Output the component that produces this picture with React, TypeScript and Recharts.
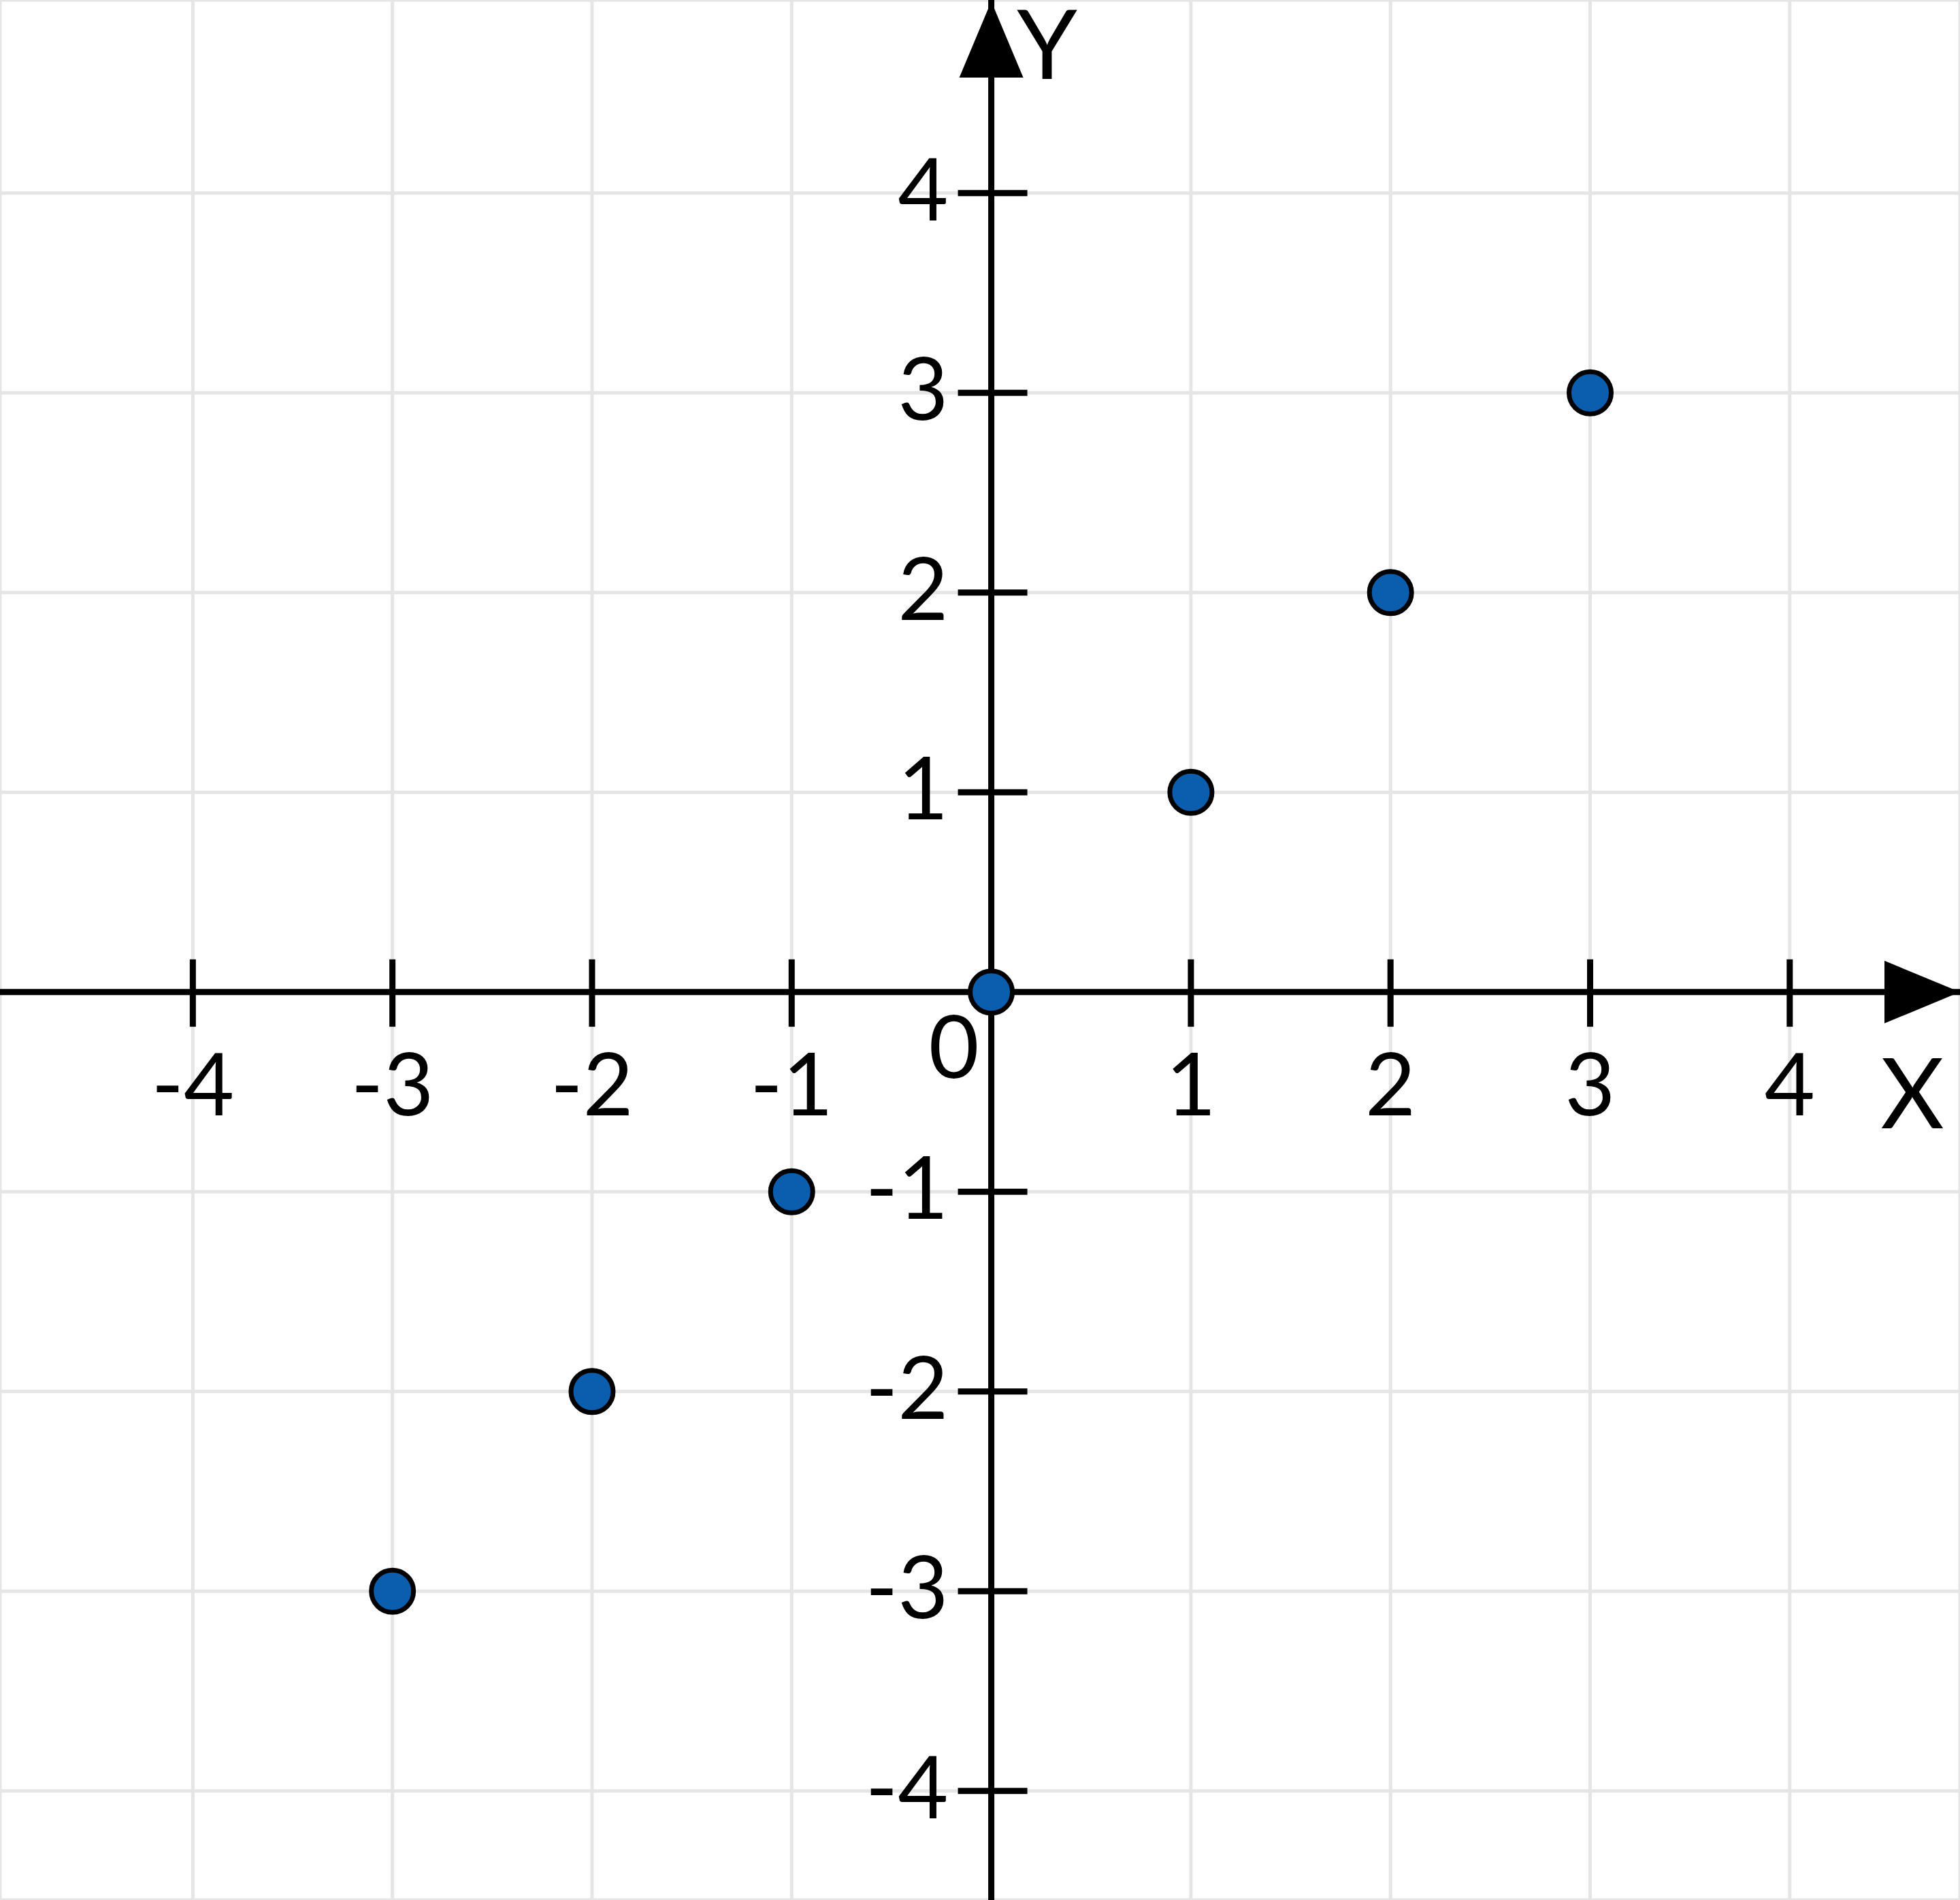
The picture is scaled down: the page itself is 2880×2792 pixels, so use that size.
import { ScatterChart, Scatter, XAxis, YAxis, CartesianGrid, ReferenceLine, ReferenceDot } from "recharts"

const points = [
  { x: -3, y: -3 },
  { x: -2, y: -2 },
  { x: -1, y: -1 },
  { x: 0, y: 0 },
  { x: 1, y: 1 },
  { x: 2, y: 2 },
  { x: 3, y: 3 },
]

const gridTicks = [-4, -3, -2, -1, 0, 1, 2, 3, 4]
const xTicks = [-4, -3, -2, -1, 1, 2, 3, 4]
const yTicks = [-4, -3, -2, -1, 1, 2, 3, 4]
const originLabel = "0"
const xName = "X"
const yName = "Y"

const W = 2880
const H = 2792
const X_DOMAIN: [number, number] = [-4.966, 4.853]
const Y_DOMAIN: [number, number] = [-4.546, 4.967]

const font = "Lato, 'Open Sans', sans-serif"
const ink = "#000"

const fmt = (v: number) => (v < 0 ? "-" + Math.abs(v) : String(v))

function XTick(props: any) {
  const { cx, cy, label } = props
  return (
    <g>
      <line x1={cx} x2={cx} y1={cy - 48} y2={cy + 51} stroke={ink} strokeWidth={9} />
      <text x={cx} y={cy + 181} textAnchor="middle" fontSize={128} fontFamily={font} fill={ink}>
        {label}
      </text>
    </g>
  )
}

function YTick(props: any) {
  const { cx, cy, label } = props
  return (
    <g>
      <line x1={cx - 49} x2={cx + 53} y1={cy} y2={cy} stroke={ink} strokeWidth={9} />
      <text x={cx - 63} y={cy + 40} textAnchor="end" fontSize={128} fontFamily={font} fill={ink}>
        {label}
      </text>
    </g>
  )
}

function XArrow(props: any) {
  const { cx, cy } = props
  return (
    <g>
      <polygon points={`${cx},${cy} ${cx - 111},${cy - 46} ${cx - 111},${cy + 46}`} fill={ink} />
      <text x={cx - 70} y={cy + 200} textAnchor="middle" fontSize={144} fontFamily={font} fill={ink}>
        {xName}
      </text>
    </g>
  )
}

function YArrow(props: any) {
  const { cx, cy } = props
  return (
    <g>
      <polygon points={`${cx},${cy + 2} ${cx - 47},${cy + 114} ${cx + 47},${cy + 114}`} fill={ink} />
      <text x={cx + 82} y={cy + 116} textAnchor="middle" fontSize={142} fontFamily={font} fill={ink}>
        {yName}
      </text>
    </g>
  )
}

function Origin(props: any) {
  const { cx, cy } = props
  return (
    <text x={cx - 55} y={cy + 126} textAnchor="middle" fontSize={128} fontFamily={font} fill={ink}>
      {originLabel}
    </text>
  )
}

function Dot(props: any) {
  const { cx, cy } = props
  return <circle cx={cx} cy={cy} r={31} fill="#0b5ead" stroke={ink} strokeWidth={7} />
}

export default function App() {
  return (
    <div style={{ position: "absolute", left: 0, top: 0, width: W, height: H, background: "#fff" }}>
      <ScatterChart width={W} height={H} margin={{ top: 0, right: 0, bottom: 0, left: 0 }}>
        <XAxis type="number" dataKey="x" domain={X_DOMAIN} allowDataOverflow ticks={gridTicks} hide />
        <YAxis type="number" dataKey="y" domain={Y_DOMAIN} allowDataOverflow ticks={gridTicks} hide />
        <CartesianGrid stroke="#e5e5e5" strokeWidth={5} />
        <ReferenceLine x={0} stroke={ink} strokeWidth={9} />
        <ReferenceLine y={0} stroke={ink} strokeWidth={9} />
        {xTicks.map((t) => (
          <ReferenceDot key={"x" + t} x={t} y={0} r={1} shape={(p: any) => <XTick {...p} label={fmt(t)} />} />
        ))}
        {yTicks.map((t) => (
          <ReferenceDot key={"y" + t} x={0} y={t} r={1} shape={(p: any) => <YTick {...p} label={fmt(t)} />} />
        ))}
        <ReferenceDot x={0} y={0} r={1} shape={(p: any) => <Origin {...p} />} />
        <ReferenceDot x={X_DOMAIN[1]} y={0} r={1} ifOverflow="visible" shape={(p: any) => <XArrow {...p} />} />
        <ReferenceDot x={0} y={Y_DOMAIN[1]} r={1} ifOverflow="visible" shape={(p: any) => <YArrow {...p} />} />
        <Scatter data={points} isAnimationActive={false} shape={(p: any) => <Dot {...p} />} />
      </ScatterChart>
    </div>
  )
}
